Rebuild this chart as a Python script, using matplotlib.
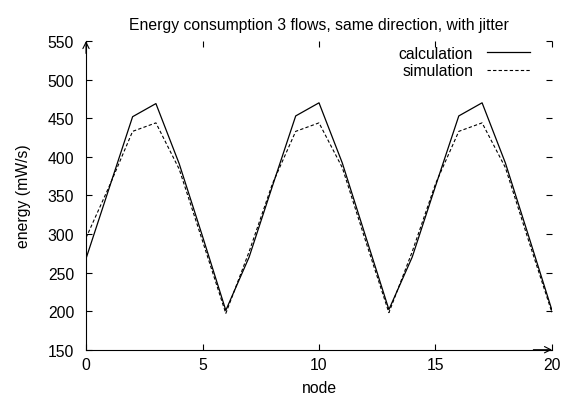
import numpy as np
import matplotlib.pyplot as plt

# Energy per node
nodes = list(range(21))
calculation = [268, 360, 452, 469, 391, 297, 201,
               270, 362, 453, 470, 392, 297, 202,
               270, 362, 453, 470, 392, 297, 201]
simulation = [295, 362, 433, 444, 384, 291, 197,
              277, 365, 433, 444, 386, 291, 198,
              277, 365, 433, 444, 386, 291, 198]

x_ticks = [0, 5, 10, 15, 20]
y_ticks = [150, 200, 250, 300, 350, 400, 450, 500, 550]

plt.rcParams['font.family'] = ['Liberation Sans', 'DejaVu Sans']
plt.rcParams['font.size'] = 11.3

fig = plt.figure(figsize=(5.64, 4.02), dpi=100)
ax = fig.add_axes([0.1525, 0.1276, 0.8262, 0.7677])

ax.plot(nodes, calculation, color='black', linewidth=0.9, label='calculation')
ax.plot(nodes, simulation, color='black', linewidth=0.8,
        linestyle=(0, (3, 2)), label='simulation')

ax.set_xlim(0, 20)
ax.set_ylim(150, 550)
ax.set_xticks(x_ticks)
ax.set_yticks(y_ticks)

# gnuplot look: only left/bottom border, mirrored ticks, arrow heads
for side in ['top', 'right']:
    ax.spines[side].set_visible(False)
ax.spines['left'].set_linewidth(0.8)
ax.spines['bottom'].set_linewidth(0.8)
ax.tick_params(direction='in', length=4, width=0.8, top=True, right=True)
ax.tick_params(axis='y', pad=8.5)
ax.tick_params(axis='x', pad=5)
ax.annotate('', xy=(0, 1.0), xytext=(0, 0.96), xycoords='axes fraction',
            arrowprops=dict(arrowstyle='->', color='black', lw=0.8,
                            shrinkA=0, shrinkB=0))
ax.annotate('', xy=(1.0, 0), xytext=(0.96, 0), xycoords='axes fraction',
            arrowprops=dict(arrowstyle='->', color='black', lw=0.8,
                            shrinkA=0, shrinkB=0))

ax.set_xlabel('node', labelpad=6)
ax.set_ylabel('energy (mW/s)', labelpad=12)
ax.set_title('Energy consumption 3 flows, same direction, with jitter',
             fontsize=11.3, pad=9)

ax.legend(loc='upper right', bbox_to_anchor=(0.966, 1.005), frameon=False,
          markerfirst=False, handlelength=2.7, handletextpad=0.9,
          labelspacing=0.15, borderaxespad=0.0)

fig.savefig('out.png', dpi=100)
